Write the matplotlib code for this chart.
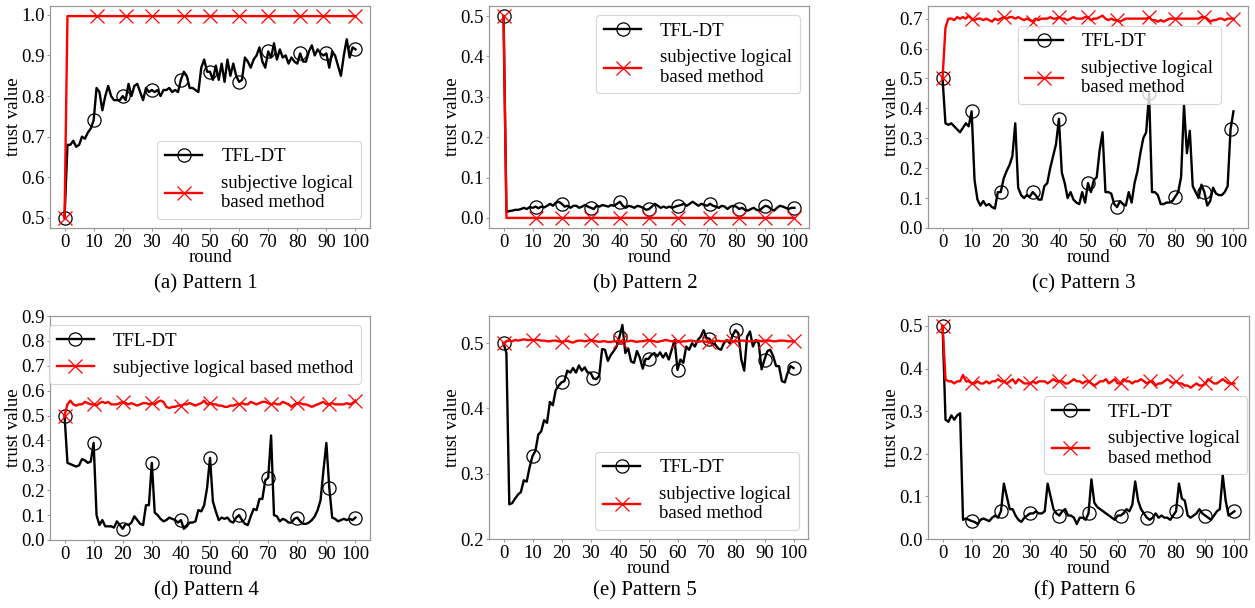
import numpy as np
import matplotlib
matplotlib.use("Agg")
import matplotlib.pyplot as plt

plt.rcParams['font.family'] = ['Liberation Serif', 'DejaVu Serif']
plt.rcParams['mathtext.fontset'] = 'stix'

# ---------------- data ----------------
labels = ["TFL-DT", "subjective logical\nbased method"]
captions = ["(a) Pattern 1", "(b) Pattern 2", "(c) Pattern 3",
            "(d) Pattern 4", "(e) Pattern 5", "(f) Pattern 6"]
xticks = [0, 10, 20, 30, 40, 50, 60, 70, 80, 90, 100]

p1_tfl = [0.50, 0.68, 0.68, 0.69, 0.675, 0.68, 0.70, 0.695, 0.71, 0.72,
          0.74, 0.82, 0.81, 0.765, 0.80, 0.825, 0.80, 0.79, 0.79, 0.79,
          0.80, 0.79, 0.83, 0.80, 0.825, 0.83, 0.81, 0.79, 0.82, 0.81,
          0.815, 0.81, 0.815, 0.80, 0.815, 0.815, 0.82, 0.81, 0.815, 0.81,
          0.84, 0.86, 0.85, 0.82, 0.82, 0.815, 0.81, 0.87, 0.89, 0.86,
          0.86, 0.84, 0.875, 0.84, 0.88, 0.835, 0.89, 0.85, 0.88, 0.85,
          0.835, 0.84, 0.895, 0.885, 0.87, 0.89, 0.90, 0.92, 0.885, 0.87,
          0.91, 0.895, 0.93, 0.89, 0.915, 0.895, 0.90, 0.88, 0.895, 0.885,
          0.88, 0.905, 0.885, 0.885, 0.91, 0.925, 0.90, 0.915, 0.905, 0.90,
          0.905, 0.87, 0.91, 0.90, 0.875, 0.85, 0.90, 0.94, 0.895, 0.92, 0.915]
p1_slm = [0.50] + [0.997] * 100

p2_tfl = [0.50, 0.015, 0.017, 0.018, 0.02, 0.02, 0.022, 0.025, 0.022, 0.027,
          0.025, 0.028, 0.024, 0.028, 0.026, 0.03, 0.035, 0.03, 0.038, 0.04,
          0.035, 0.028, 0.03, 0.025, 0.03, 0.03, 0.025, 0.028, 0.032, 0.028,
          0.025, 0.022, 0.03, 0.028, 0.032, 0.03, 0.028, 0.032, 0.03, 0.035,
          0.04, 0.03, 0.025, 0.03, 0.028, 0.025, 0.03, 0.028, 0.025, 0.02,
          0.022, 0.028, 0.035, 0.03, 0.025, 0.028, 0.025, 0.028, 0.025, 0.028,
          0.03, 0.032, 0.035, 0.03, 0.035, 0.04, 0.035, 0.03, 0.035, 0.032,
          0.03, 0.035, 0.03, 0.028, 0.025, 0.03, 0.028, 0.022, 0.028, 0.03,
          0.028, 0.022, 0.025, 0.02, 0.018, 0.022, 0.025, 0.02, 0.018, 0.025,
          0.03, 0.028, 0.022, 0.018, 0.025, 0.03, 0.028, 0.025, 0.022, 0.025, 0.025]
p2_slm = [0.50] + [0.0] * 100

p3_tfl = [0.50, 0.35, 0.345, 0.35, 0.34, 0.33, 0.32, 0.335, 0.35, 0.34,
          0.39, 0.16, 0.095, 0.075, 0.09, 0.075, 0.08, 0.07, 0.065, 0.12,
          0.12, 0.165, 0.19, 0.21, 0.24, 0.35, 0.135, 0.11, 0.10, 0.11,
          0.105, 0.12, 0.11, 0.095, 0.095, 0.14, 0.15, 0.20, 0.24, 0.28,
          0.365, 0.185, 0.15, 0.10, 0.12, 0.095, 0.085, 0.08, 0.12, 0.085,
          0.15, 0.12, 0.16, 0.17, 0.26, 0.32, 0.12, 0.12, 0.115, 0.08,
          0.07, 0.09, 0.08, 0.075, 0.12, 0.085, 0.15, 0.19, 0.25, 0.30,
          0.32, 0.45, 0.12, 0.12, 0.11, 0.08, 0.08, 0.085, 0.085, 0.09,
          0.105, 0.12, 0.17, 0.41, 0.25, 0.325, 0.14, 0.12, 0.10, 0.145,
          0.12, 0.075, 0.09, 0.135, 0.115, 0.11, 0.11, 0.12, 0.14, 0.33, 0.39]
p3_slm = [0.50, 0.67, 0.70, 0.70, 0.695, 0.705, 0.70, 0.705, 0.70, 0.71,
          0.70, 0.695, 0.70, 0.70, 0.695, 0.70, 0.695, 0.69, 0.70, 0.695,
          0.70, 0.705, 0.70, 0.705, 0.705, 0.70, 0.705, 0.70, 0.695, 0.70,
          0.695, 0.69, 0.70, 0.695, 0.70, 0.70, 0.70, 0.705, 0.70, 0.70,
          0.705, 0.70, 0.70, 0.695, 0.70, 0.705, 0.70, 0.70, 0.70, 0.705,
          0.705, 0.695, 0.70, 0.70, 0.705, 0.71, 0.70, 0.695, 0.70, 0.695,
          0.695, 0.69, 0.695, 0.70, 0.70, 0.70, 0.70, 0.70, 0.70, 0.70,
          0.70, 0.705, 0.695, 0.695, 0.69, 0.695, 0.69, 0.695, 0.70, 0.70,
          0.70, 0.70, 0.70, 0.70, 0.70, 0.70, 0.70, 0.70, 0.70, 0.705,
          0.705, 0.70, 0.69, 0.695, 0.695, 0.70, 0.70, 0.695, 0.70, 0.70, 0.70]

p4_tfl = [0.50, 0.31, 0.305, 0.30, 0.295, 0.30, 0.325, 0.32, 0.31, 0.315,
          0.39, 0.10, 0.06, 0.08, 0.055, 0.055, 0.055, 0.05, 0.075, 0.06,
          0.045, 0.065, 0.06, 0.07, 0.095, 0.08, 0.065, 0.06, 0.14, 0.14,
          0.31, 0.11, 0.10, 0.085, 0.075, 0.08, 0.09, 0.085, 0.08, 0.07,
          0.08, 0.045, 0.055, 0.07, 0.07, 0.075, 0.12, 0.115, 0.14, 0.21,
          0.33, 0.155, 0.115, 0.08, 0.09, 0.085, 0.09, 0.075, 0.07, 0.09,
          0.10, 0.08, 0.065, 0.06, 0.095, 0.125, 0.12, 0.165, 0.165, 0.24,
          0.25, 0.42, 0.10, 0.095, 0.075, 0.085, 0.08, 0.07, 0.07, 0.085,
          0.09, 0.075, 0.065, 0.065, 0.07, 0.08, 0.095, 0.12, 0.16, 0.28,
          0.39, 0.21, 0.09, 0.085, 0.075, 0.08, 0.085, 0.08, 0.085, 0.08, 0.09]
p4_slm = [0.50, 0.545, 0.56, 0.545, 0.54, 0.545, 0.545, 0.555, 0.55, 0.545,
          0.545, 0.54, 0.55, 0.555, 0.55, 0.555, 0.545, 0.545, 0.545, 0.55,
          0.555, 0.55, 0.545, 0.55, 0.545, 0.54, 0.545, 0.55, 0.55, 0.545,
          0.55, 0.545, 0.555, 0.56, 0.555, 0.535, 0.53, 0.535, 0.535, 0.54,
          0.54, 0.545, 0.545, 0.55, 0.545, 0.54, 0.545, 0.55, 0.56, 0.545,
          0.55, 0.545, 0.545, 0.54, 0.54, 0.535, 0.535, 0.54, 0.54, 0.545,
          0.545, 0.55, 0.545, 0.545, 0.555, 0.55, 0.545, 0.55, 0.555, 0.555,
          0.55, 0.545, 0.55, 0.545, 0.545, 0.555, 0.55, 0.545, 0.535, 0.545,
          0.55, 0.55, 0.545, 0.545, 0.54, 0.535, 0.54, 0.545, 0.55, 0.555,
          0.545, 0.545, 0.55, 0.545, 0.545, 0.545, 0.545, 0.55, 0.545, 0.55, 0.56]

p5_tfl = [0.500, 0.485, 0.253, 0.255, 0.262, 0.268, 0.272, 0.290, 0.288, 0.310,
          0.327, 0.335, 0.360, 0.365, 0.382, 0.378, 0.410, 0.405, 0.428, 0.435,
          0.440, 0.442, 0.458, 0.455, 0.462, 0.455, 0.466, 0.458, 0.463, 0.455,
          0.455, 0.446, 0.445, 0.450, 0.491, 0.490, 0.473, 0.482, 0.488, 0.495,
          0.510, 0.528, 0.485, 0.492, 0.472, 0.470, 0.488, 0.478, 0.461, 0.476,
          0.476, 0.482, 0.485, 0.480, 0.486, 0.478, 0.485, 0.475, 0.490, 0.505,
          0.459, 0.475, 0.470, 0.495, 0.490, 0.500, 0.495, 0.505, 0.510, 0.520,
          0.508, 0.507, 0.500, 0.498, 0.492, 0.490, 0.500, 0.505, 0.500, 0.512,
          0.520, 0.515, 0.475, 0.458, 0.510, 0.518, 0.495, 0.505, 0.500, 0.460,
          0.475, 0.488, 0.490, 0.480, 0.465, 0.465, 0.442, 0.440, 0.455, 0.465, 0.462]
p5_slm = [0.500, 0.503, 0.504, 0.503, 0.505, 0.504, 0.505, 0.506, 0.505, 0.505,
          0.505, 0.505, 0.505, 0.504, 0.504, 0.503, 0.503, 0.504, 0.504, 0.503,
          0.502, 0.503, 0.504, 0.502, 0.501, 0.503, 0.504, 0.504, 0.503, 0.504,
          0.505, 0.504, 0.503, 0.502, 0.503, 0.503, 0.502, 0.502, 0.503, 0.503,
          0.503, 0.502, 0.503, 0.503, 0.504, 0.503, 0.502, 0.503, 0.503, 0.504,
          0.505, 0.504, 0.503, 0.502, 0.503, 0.504, 0.505, 0.504, 0.503, 0.503,
          0.503, 0.502, 0.503, 0.503, 0.504, 0.504, 0.503, 0.502, 0.503, 0.503,
          0.502, 0.502, 0.503, 0.503, 0.504, 0.503, 0.503, 0.504, 0.504, 0.503,
          0.503, 0.503, 0.504, 0.504, 0.503, 0.503, 0.503, 0.504, 0.504, 0.503,
          0.504, 0.504, 0.504, 0.503, 0.503, 0.504, 0.504, 0.504, 0.503, 0.503, 0.503]

p6_tfl = [0.50, 0.28, 0.275, 0.29, 0.28, 0.29, 0.295, 0.045, 0.048, 0.045,
          0.042, 0.04, 0.035, 0.045, 0.048, 0.045, 0.042, 0.05, 0.055, 0.05,
          0.065, 0.13, 0.10, 0.07, 0.07, 0.055, 0.045, 0.04, 0.05, 0.055,
          0.06, 0.06, 0.065, 0.06, 0.06, 0.065, 0.13, 0.10, 0.07, 0.06,
          0.055, 0.065, 0.07, 0.055, 0.055, 0.05, 0.035, 0.05, 0.05, 0.045,
          0.06, 0.14, 0.085, 0.075, 0.07, 0.065, 0.06, 0.055, 0.05, 0.045,
          0.055, 0.055, 0.06, 0.07, 0.065, 0.08, 0.135, 0.09, 0.07, 0.06,
          0.05, 0.045, 0.05, 0.06, 0.05, 0.055, 0.05, 0.05, 0.045, 0.055,
          0.065, 0.13, 0.095, 0.09, 0.055, 0.05, 0.055, 0.06, 0.07, 0.06,
          0.055, 0.05, 0.045, 0.055, 0.065, 0.07, 0.15, 0.09, 0.055, 0.06, 0.065]
p6_slm = [0.50, 0.375, 0.37, 0.37, 0.365, 0.37, 0.37, 0.385, 0.37, 0.37,
          0.365, 0.365, 0.37, 0.365, 0.365, 0.37, 0.365, 0.37, 0.37, 0.375,
          0.37, 0.37, 0.365, 0.37, 0.375, 0.365, 0.375, 0.37, 0.365, 0.365,
          0.365, 0.37, 0.365, 0.37, 0.37, 0.37, 0.365, 0.37, 0.375, 0.37,
          0.37, 0.37, 0.365, 0.365, 0.37, 0.375, 0.37, 0.37, 0.365, 0.37,
          0.37, 0.365, 0.36, 0.365, 0.37, 0.37, 0.375, 0.365, 0.37, 0.375,
          0.365, 0.365, 0.375, 0.37, 0.37, 0.365, 0.37, 0.37, 0.375, 0.37,
          0.365, 0.37, 0.37, 0.36, 0.365, 0.365, 0.37, 0.375, 0.37, 0.365,
          0.37, 0.365, 0.365, 0.36, 0.36, 0.355, 0.36, 0.365, 0.36, 0.36,
          0.365, 0.375, 0.37, 0.365, 0.365, 0.37, 0.375, 0.37, 0.365, 0.365, 0.365]

series = [(p1_tfl, p1_slm), (p2_tfl, p2_slm), (p3_tfl, p3_slm),
          (p4_tfl, p4_slm), (p5_tfl, p5_slm), (p6_tfl, p6_slm)]

# ---------------- layout / style ----------------
W, H = 1255, 608
fig = plt.figure(figsize=(W / 100, H / 100), dpi=100)

boxes = [(50, 6, 370, 228), (489, 6, 809, 228), (928, 6, 1248, 228),
         (50, 316, 370, 540), (489, 316, 808, 539), (928, 316, 1249, 539)]
caption_y = [284, 284, 284, 591, 591, 591]

circ_idx = [[0, 10, 20, 30, 40, 50, 60, 70, 81, 90, 100],
            [0, 11, 20, 30, 40, 50, 60, 71, 81, 90, 100],
            [0, 10, 20, 31, 40, 50, 60, 71, 80, 90, 99],
            [0, 10, 20, 30, 40, 50, 60, 70, 80, 91, 100],
            [0, 10, 20, 31, 40, 50, 60, 71, 80, 90, 100],
            [0, 10, 20, 30, 40, 50, 61, 70, 80, 90, 100]]
cross_idx = [[0, 11, 21, 30, 41, 50, 60, 70, 81, 89, 100],
             [0, 11, 20, 30, 40, 50, 60, 71, 81, 90, 100],
             [0, 10, 21, 31, 40, 50, 60, 71, 80, 90, 100],
             [0, 10, 20, 30, 40, 50, 60, 71, 80, 91, 100],
             [0, 10, 20, 30, 40, 50, 60, 71, 79, 90, 100],
             [0, 10, 21, 30, 40, 50, 61, 71, 80, 90, 99]]

ylims = [None, None, (0, None), (0, 0.9), (0.2, None), (0, None)]
yticks = [[0.5, 0.6, 0.7, 0.8, 0.9, 1.0],
          [0.0, 0.1, 0.2, 0.3, 0.4, 0.5],
          [0.0, 0.1, 0.2, 0.3, 0.4, 0.5, 0.6, 0.7],
          [0.0, 0.1, 0.2, 0.3, 0.4, 0.5, 0.6, 0.7, 0.8, 0.9],
          [0.2, 0.3, 0.4, 0.5],
          [0.0, 0.1, 0.2, 0.3, 0.4, 0.5]]

legend_kw = [dict(loc='lower right'),
             dict(loc='upper right'),
             dict(loc='upper right', bbox_to_anchor=(0.915, 0.912), borderaxespad=0),
             dict(loc='upper right'),
             dict(loc='lower right'),
             dict(loc='center right', bbox_to_anchor=(0.995, 0.465), borderaxespad=0)]

spine_col = '#9a9a9a'
FS_TICK = 13.5
FS_LAB = 13.5
FS_LEG = 13.5
FS_CAP = 15

for i, (tfl, slm) in enumerate(series):
    l, t, r, b = boxes[i]
    ax = fig.add_axes([l / W, 1 - b / H, (r - l) / W, (b - t) / H])
    x1 = np.arange(len(tfl))
    x2 = np.arange(len(slm))
    ax.plot(x1, tfl, color='black', lw=1.7, marker='o', ms=9.5,
            mfc='none', mec='black', mew=0.9, markevery=circ_idx[i],
            label=labels[0])
    lab2 = labels[1] if i != 3 else labels[1].replace("\n", " ")
    ax.plot(x2, slm, color='red', lw=1.7, marker='x', ms=9.5,
            mec='red', mew=0.9, markevery=cross_idx[i], label=lab2)
    ax.set_xticks(xticks)
    if ylims[i] is not None:
        lo, hi = ylims[i]
        if hi is None:
            ax.set_ylim(bottom=lo)
        else:
            ax.set_ylim(lo, hi)
    ax.set_yticks(yticks[i])
    ax.yaxis.set_major_formatter(matplotlib.ticker.FormatStrFormatter('%.1f'))
    for s in ax.spines.values():
        s.set_color(spine_col)
        s.set_linewidth(0.9)
    ax.tick_params(labelsize=FS_TICK, color=spine_col, length=2.5, width=0.8, pad=1.5)
    ax.set_xlabel("round", fontsize=FS_LAB, labelpad=-1)
    ax.set_ylabel("trust value", fontsize=FS_LAB)
    ax.yaxis.set_label_coords(-28.0 / (r - l), 0.5)
    leg = ax.legend(fontsize=FS_LEG, handlelength=2.0, handletextpad=1.0,
                    **legend_kw[i])
    leg.get_frame().set_linewidth(0.8)
    fig.text(((l + r) / 2 - 4) / W, 1 - caption_y[i] / H, captions[i],
             fontsize=FS_CAP, ha='center', va='center')

fig.savefig("out.png", dpi=100)
